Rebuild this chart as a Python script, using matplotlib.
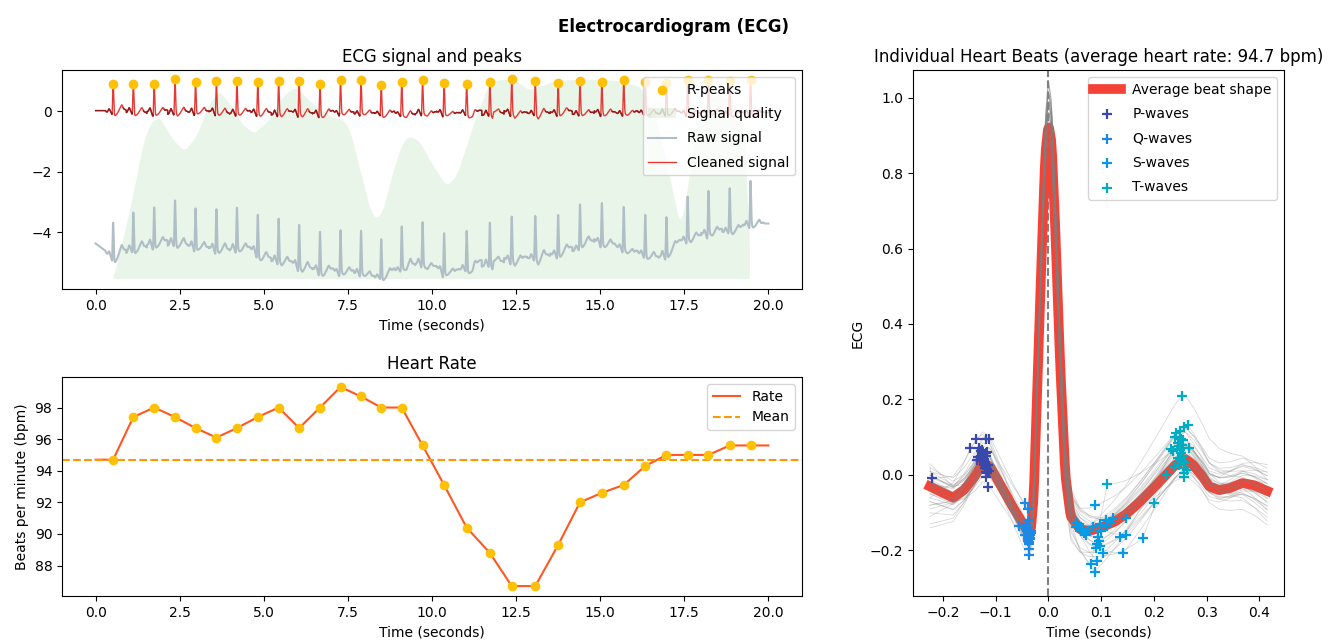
import numpy as np
import matplotlib
matplotlib.use("Agg")
import matplotlib.pyplot as plt

# R-peaks (seconds) and cleaned ECG amplitude at each peak
peak_times = [0.52, 1.12, 1.74, 2.36, 2.97, 3.59, 4.20, 4.82, 5.44, 6.05, 6.67,
              7.28, 7.89, 8.49, 9.10, 9.72, 10.36, 11.03, 11.72, 12.37, 13.07,
              13.75, 14.40, 15.05, 15.70, 16.34, 16.97, 17.60, 18.22, 18.85, 19.47]
peak_heights = [0.89, 0.91, 0.91, 1.05, 0.97, 0.99, 0.99, 0.95, 1.00, 1.00, 0.91,
                1.02, 1.02, 0.86, 0.97, 1.02, 0.94, 0.89, 0.97, 1.05, 1.00,
                0.94, 1.00, 0.97, 1.02, 0.97, 0.93, 1.02, 1.04, 1.00, 1.04]

# heart rate at each R-peak (bpm)
heart_rate = [94.7, 97.4, 98.0, 97.4, 96.7, 96.1, 96.7, 97.4, 98.0, 96.7, 98.0,
              99.3, 98.7, 98.0, 98.0, 95.6, 93.1, 90.4, 88.8, 86.7, 86.7,
              89.3, 92.0, 92.6, 93.1, 94.3, 95.0, 95.0, 95.0, 95.6, 95.6]
hr_mean = 94.7

# baseline wander of the raw signal
baseline_t = [0.0, 0.52, 1.12, 1.82, 2.39, 2.96, 3.52, 4.23, 4.66, 4.94, 5.50,
              6.07, 6.64, 7.20, 7.77, 8.34, 8.90, 9.35, 10.04, 10.32, 10.88,
              11.45, 12.02, 12.58, 13.15, 13.72, 14.28, 14.62, 15.41, 15.98,
              16.55, 16.98, 17.40, 17.96, 18.53, 19.09, 19.45, 20.0]
baseline_v = [-4.40, -4.83, -4.52, -4.33, -4.30, -4.46, -4.52, -4.46, -4.52,
              -4.74, -4.85, -5.05, -5.15, -5.25, -5.23, -5.40, -5.18, -4.90,
              -5.05, -5.25, -5.15, -4.96, -4.90, -4.79, -4.74, -4.65, -4.46,
              -4.20, -4.35, -4.60, -4.72, -4.70, -4.20, -4.02, -3.91, -3.78,
              -3.64, -3.66]
raw_gain = 1.3

# signal quality outline (rescaled to the plot units)
quality_t = [0.53, 1.03, 1.42, 1.64, 1.90, 2.31, 2.65, 3.00, 3.39, 3.69, 3.98,
             4.38, 4.72, 5.17, 5.56, 5.96, 6.40, 7.00, 7.38, 7.57, 7.87, 8.17,
             8.36, 8.56, 8.86, 9.15, 9.35, 9.64, 9.94, 10.43, 10.73, 11.03,
             11.32, 11.72, 12.11, 12.50, 12.90, 13.69, 14.50, 15.50, 16.20,
             16.69, 17.00, 17.40, 17.62, 17.82, 18.03, 18.50, 19.00, 19.35, 19.45]
quality_v = [-5.55, -3.27, -1.07, -0.41, -0.20, -0.96, -1.32, -0.85, 0.25, 0.64,
             0.26, -0.46, -0.74, -0.30, 0.47, 0.80, 0.30, -0.20, -0.30, -0.63,
             -1.95, -3.27, -3.60, -3.27, -1.95, -1.01, -0.83, -1.01, -1.62,
             -2.48, -2.17, -1.18, -0.19, 0.92, 1.05, 1.00, 0.69, 1.00, 1.05,
             1.00, 0.80, -0.30, -1.80, -3.86, -2.50, -0.80, 0.00, 0.60, 0.30,
             -1.00, -5.55]
quality_floor = -5.55

# average beat shape
avg_t = [-0.225, -0.200, -0.181, -0.160, -0.140, -0.124, -0.110, -0.090, -0.070,
         -0.055, -0.042, -0.033, -0.028, -0.022, -0.013, -0.006, 0.0, 0.006,
         0.013, 0.022, 0.032, 0.042, 0.060, 0.078, 0.100, 0.125, 0.147, 0.175,
         0.210, 0.240, 0.260, 0.275, 0.290, 0.305, 0.324, 0.345, 0.368, 0.390,
         0.410, 0.415]
avg_v = [-0.031, -0.048, -0.061, -0.040, -0.005, 0.032, 0.020, -0.030, -0.080,
         -0.115, -0.144, -0.140, -0.060, 0.200, 0.580, 0.850, 0.930, 0.880,
         0.650, 0.300, 0.000, -0.110, -0.145, -0.149, -0.140, -0.125, -0.105,
         -0.070, -0.020, 0.025, 0.042, 0.025, 0.000, -0.031, -0.041, -0.035,
         -0.022, -0.028, -0.040, -0.043]

# wave markers, one per beat
p_t = [-0.221, -0.148, -0.137, -0.131, -0.119, -0.112, -0.134, -0.128, -0.123,
       -0.118, -0.115, -0.121, -0.118, -0.119, -0.114, -0.136, -0.126, -0.124,
       -0.120, -0.117, -0.122, -0.129, -0.116, -0.125, -0.113, -0.121, -0.127,
       -0.119, -0.118, -0.116, -0.123]
p_v = [-0.010, 0.072, 0.096, 0.072, 0.096, 0.094, 0.047, 0.062, 0.037, 0.057,
       0.027, 0.018, 0.008, -0.007, -0.033, 0.039, 0.050, 0.045, 0.030, 0.060,
       0.025, 0.040, 0.015, 0.055, 0.010, 0.035, 0.065, 0.020, 0.050, 0.005, 0.042]
q_t = [-0.045, -0.039, -0.055, -0.036, -0.042, -0.033, -0.039, -0.035, -0.037,
       -0.036, -0.037, -0.045, -0.034, -0.040, -0.038, -0.041, -0.036, -0.043,
       -0.035, -0.038, -0.040, -0.037, -0.034, -0.039, -0.036, -0.041, -0.038,
       -0.035, -0.037, -0.040, -0.036]
q_v = [-0.076, -0.090, -0.135, -0.120, -0.144, -0.149, -0.164, -0.169, -0.179,
       -0.198, -0.213, -0.159, -0.155, -0.140, -0.170, -0.150, -0.185, -0.130,
       -0.160, -0.175, -0.145, -0.165, -0.150, -0.175, -0.160, -0.140, -0.155,
       -0.170, -0.180, -0.150, -0.165]
s_t = [0.052, 0.059, 0.055, 0.071, 0.089, 0.084, 0.097, 0.094, 0.092, 0.097,
       0.103, 0.109, 0.122, 0.135, 0.141, 0.147, 0.147, 0.179, 0.080, 0.092,
       0.088, 0.062, 0.066, 0.100, 0.112, 0.075, 0.056, 0.095, 0.118, 0.090, 0.068]
s_v = [-0.139, -0.145, -0.128, -0.159, -0.081, -0.139, -0.130, -0.164, -0.184,
       -0.189, -0.208, -0.120, -0.115, -0.164, -0.208, -0.159, -0.115, -0.169,
       -0.238, -0.230, -0.257, -0.150, -0.142, -0.150, -0.135, -0.150, -0.135,
       -0.175, -0.125, -0.195, -0.155]
t_t = [0.253, 0.242, 0.250, 0.264, 0.258, 0.252, 0.255, 0.233, 0.236, 0.248,
       0.267, 0.252, 0.255, 0.248, 0.258, 0.262, 0.258, 0.223, 0.112, 0.201,
       0.245, 0.240, 0.256, 0.250, 0.260, 0.246, 0.254, 0.238, 0.251, 0.257, 0.249]
t_v = [0.209, 0.111, 0.116, 0.131, 0.126, 0.096, 0.091, 0.067, 0.062, 0.077,
       0.072, 0.057, 0.037, 0.027, 0.018, 0.013, -0.007, -0.002, -0.025, -0.074,
       0.085, 0.100, 0.050, 0.065, 0.030, 0.045, 0.080, 0.020, 0.070, 0.005, 0.040]
# spread of the individual beats at both ends of the window
start_dev = [0.05, -0.03, 0.02, -0.08, 0.00, 0.04, -0.05, 0.01, -0.10, 0.03, -0.02,
             0.06, -0.04, 0.00, 0.02, -0.06, 0.03, -0.01, -0.11, 0.05, -0.03,
             0.01, -0.07, 0.04, -0.02, 0.02, -0.05, 0.00, 0.03, -0.04, 0.01]
end_dev = [0.03, -0.05, 0.06, -0.02, 0.01, -0.08, 0.04, -0.03, 0.02, -0.06, 0.05,
           0.00, -0.04, 0.03, -0.09, 0.02, -0.01, 0.07, -0.05, 0.01, -0.03,
           0.04, -0.02, 0.00, 0.05, -0.07, 0.02, -0.04, 0.03, -0.01, 0.00]

# ---- build individual beats from the average shape + the wave markers
beat_x = np.arange(-0.225, 0.4151, 0.002)
avg_beat = np.interp(beat_x, avg_t, avg_v)


def tmpl(x):
    return np.interp(x, avg_t, avg_v)


beats = []
for i in range(len(peak_times)):
    kt = [avg_t[0], p_t[i], q_t[i], 0.0, s_t[i], t_t[i], avg_t[-1]]
    kd = [start_dev[i], p_v[i] - tmpl(p_t[i]), q_v[i] - tmpl(q_t[i]),
          peak_heights[i] - tmpl(0.0), s_v[i] - tmpl(s_t[i]),
          t_v[i] - tmpl(t_t[i]), end_dev[i]]
    beats.append(avg_beat + np.interp(beat_x, kt, kd))

# ---- continuous signal: each beat placed at its R-peak
fs = 500
ecg_time = np.arange(0, 20 + 0.5 / fs, 1 / fs)
pk = np.array(peak_times)
splits = pk[:-1] + 0.65 * np.diff(pk)
seg = np.searchsorted(splits, ecg_time)
tau = np.clip(ecg_time - pk[seg], beat_x[0], beat_x[-1])
clean = np.zeros_like(ecg_time)
for i, b in enumerate(beats):
    m = seg == i
    clean[m] = np.interp(tau[m], beat_x, b)
raw = np.interp(ecg_time, baseline_t, baseline_v) + raw_gain * clean

# darker segments between beats
prev_pk = pk[np.clip(np.searchsorted(pk, ecg_time, side="right") - 1, 0, None)]
next_pk = pk[np.clip(np.searchsorted(pk, ecg_time), None, len(pk) - 1)]
systole = ((ecg_time - prev_pk) >= 0) & ((ecg_time - prev_pk) < 0.30)
pre_r = ((next_pk - ecg_time) >= 0) & ((next_pk - ecg_time) < 0.03)
dark = np.where(~systole & ~pre_r, clean, np.nan)

# quality outline, lightly smoothed
q_mask = (ecg_time >= quality_t[0]) & (ecg_time <= quality_t[-1])
q_x = ecg_time[q_mask]
q_y = np.interp(q_x, quality_t, quality_v)
win = 100
q_pad = np.concatenate([np.full(win, q_y[0]), q_y, np.full(win, q_y[-1])])
q_y = np.convolve(q_pad, np.ones(win) / win, mode="same")[win:-win]

# ---- figure
fig = plt.figure(figsize=(13.28, 6.42), dpi=100)
ax0 = fig.add_axes([0.0467, 0.5498, 0.5572, 0.3411])
ax1 = fig.add_axes([0.0467, 0.0716, 0.5572, 0.3411])
ax2 = fig.add_axes([0.6875, 0.0716, 0.2794, 0.8193])

fig.suptitle("Electrocardiogram (ECG)", fontweight="bold", fontsize=12, x=0.507, y=0.972)

# ECG signal and peaks
ax0.set_title("ECG signal and peaks", fontsize=12)
ax0.fill_between(q_x, quality_floor, q_y, alpha=0.12, zorder=0, interpolate=True,
                 facecolor="#4CAF50", label="Signal quality")
ax0.plot(ecg_time, raw, color="#B0BEC5", label="Raw signal", zorder=1)
ax0.plot(ecg_time, clean, color="#E53935", label="Cleaned signal", zorder=3, linewidth=1)
ax0.plot(ecg_time, dark, color="#8E1B1B", zorder=3, linewidth=1)
ax0.scatter(peak_times, peak_heights, color="#FFC107", label="R-peaks", zorder=4)
ax0.set_xlabel("Time (seconds)")
ax0.set_ylim(-5.88, 1.36)
handles, labels = ax0.get_legend_handles_labels()
order = [labels.index(l) for l in ["R-peaks", "Signal quality", "Raw signal", "Cleaned signal"]]
ax0.legend([handles[k] for k in order], [labels[k] for k in order], loc="upper right",
           labelspacing=0.75)

# Heart rate
ax1.set_title("Heart Rate", fontsize=12)
hr_x = [0.0] + peak_times + [20.0]
hr_y = [heart_rate[0]] + heart_rate + [heart_rate[-1]]
ax1.plot(hr_x, hr_y, color="#FF5722", label="Rate", linewidth=1.5)
ax1.scatter(peak_times, heart_rate, color="#FFC107", zorder=3)
ax1.axhline(y=hr_mean, label="Mean", linestyle="--", color="#FF9800", linewidth=1.5)
ax1.set_xlabel("Time (seconds)")
ax1.set_ylabel("Beats per minute (bpm)")
ax1.set_xlim(-1.0, 21.0)
ax1.set_yticks([88, 90, 92, 94, 96, 98])
ax1.legend(loc="upper right")

# Individual heart beats
ax2.set_title("Individual Heart Beats (average heart rate: %.1f bpm)" % hr_mean, fontsize=12)
ax2.axvline(0, color="grey", linestyle="--", zorder=0)
ax2.plot(beat_x, avg_beat, color="#F44336", linewidth=7, label="Average beat shape", zorder=1)
for b in beats:
    ax2.plot(beat_x, b, color="grey", linewidth=0.6, alpha=0.3, zorder=2)
ax2.scatter(p_t, p_v, marker="+", s=55, linewidths=1.6, color="#3949AB", label="P-waves", zorder=3)
ax2.scatter(q_t, q_v, marker="+", s=55, linewidths=1.6, color="#1E88E5", label="Q-waves", zorder=3)
ax2.scatter(s_t, s_v, marker="+", s=55, linewidths=1.6, color="#039BE5", label="S-waves", zorder=3)
ax2.scatter(t_t, t_v, marker="+", s=55, linewidths=1.6, color="#00ACC1", label="T-waves", zorder=3)
ax2.set_ylim(-0.322, 1.074)
ax2.set_xlabel("Time (seconds)")
ax2.set_ylabel("ECG")
ax2.legend(loc="upper right", labelspacing=0.75)

fig.savefig("out.png", dpi=100)
